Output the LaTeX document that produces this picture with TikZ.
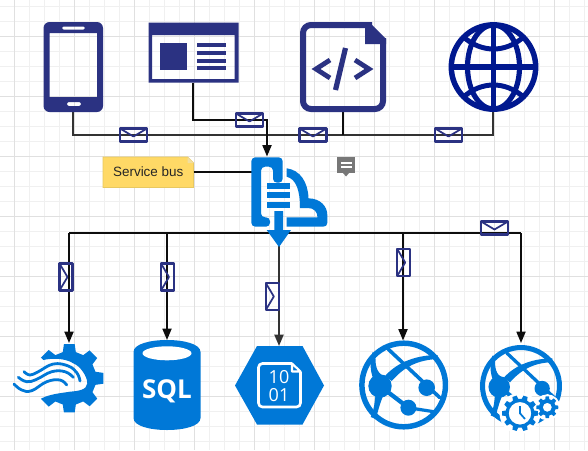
\documentclass[tikz,border=0pt]{standalone}
\usepackage{fontspec}
\setmainfont{Liberation Sans}
\newfontfamily\iconfont{Open Sans}
\usetikzlibrary{arrows.meta,calc}
\definecolor{navy}{HTML}{2B3282}
\definecolor{deepblue}{HTML}{00188F}
\definecolor{azure}{HTML}{0078D7}
\definecolor{gridminor}{HTML}{F0F0F0}
\definecolor{gridmajor}{HTML}{E0E0E0}
\definecolor{notefill}{HTML}{FFD966}
\definecolor{noteedge}{HTML}{E8C860}
\definecolor{commentgray}{HTML}{777777}
\tikzset{
  every picture/.style={x=0.75pt,y=-0.75pt},
  iconbox/.style n args={2}{minimum width=#1*0.75pt,minimum height=#2*0.75pt,inner sep=0pt,outer sep=0pt},
  wire/.style={draw=black!95,line width=1.3pt},
  trunk/.style={draw=black!80,line width=1.5pt},
  tip/.style={-{Triangle[length=8.5pt,width=6.75pt]}},
  envline/.style={draw=navy,line width=1.6pt,line join=round},
  envelope/.pic={
    \draw[envline] (-13.5,-6.5) rectangle (13.5,6.5);
    \draw[envline,line width=1.3pt] (-13.5,-6.5) -- (0,1.5) -- (13.5,-6.5);
  },
}
\newcommand{\gearshape}[5]{% n teeth, outer, root, half tip, half base
  (0:#2) \foreach \k in {0,...,\numexpr#1-1\relax}{
    -- ({\k*360/#1+#4}:#2) -- ({\k*360/#1+#5}:#3)
    -- ({(\k+1)*360/#1-#5}:#3) -- ({(\k+1)*360/#1-#4}:#2)
  } -- cycle}
\newcommand{\webglobe}[3]{%
  \begin{scope}[shift={(#1,#2)},scale=#3,azure,line cap=round]
    \draw[line width=#3*4.1pt] (0,0) circle (41.8);
    \fill (-23.7,1) circle (11.7);
    \fill (23,2.7) circle (8.3);
    \fill (4.7,22.7) circle (8);
    \fill (-18.7,-9) .. controls (-5.3,-24) and (14.7,-30) .. (34,-30) -- (34,-26) .. controls (14.7,-25) and (1.3,-19) .. (-12,-4) -- cycle;
    \draw[line width=#3*2.7pt] (-15.3,-35.7) -- (36,12.5);
    \draw[line width=#3*3.2pt] (-23.7,1) -- (4.7,22.7);
    \draw[line width=#3*2.4pt] (4.7,22.7) -- (32,27);
    \fill (-30,-5) .. controls (-34,-15) and (-34,-24) .. (-31,-33) -- (-28,-31) .. controls (-29,-20) and (-27,-12) .. (-20,-9) -- cycle;
    \fill (-28,8) .. controls (-29,18) and (-30,26) .. (-33,32) -- (-28,34) .. controls (-25,24) and (-23,15) .. (-19,8) -- cycle;
  \end{scope}}
\begin{document}
\begin{tikzpicture}
\useasboundingbox (0,0) rectangle (588,450);
\fill[white] (0,0) rectangle (588,450);
% grid
\foreach \gx in {-0.5,14.5,...,590}{\draw[gridminor,line width=0.75pt] (\gx,0) -- (\gx,450);}
\foreach \gy in {6.5,21.5,...,450}{\draw[gridminor,line width=0.75pt] (0,\gy) -- (588,\gy);}
\foreach \gx in {14.5,74.5,...,590}{\draw[gridmajor,line width=0.75pt] (\gx,0) -- (\gx,450);}
\foreach \gy in {36.5,96.5,...,450}{\draw[gridmajor,line width=0.75pt] (0,\gy) -- (588,\gy);}

% anchor nodes for icons
\node[iconbox={60}{90}] (phone) at (73,67) {};
\node[iconbox={90}{60}] (window) at (193,52.5) {};
\node[iconbox={86}{90}] (code) at (343,67) {};
\node[iconbox={90}{90}] (globe) at (493,67) {};
\node[iconbox={76}{70}] (bus) at (289.3,192) {};
\node[iconbox={70}{70}] (gearwave) at (69,378) {};
\node[iconbox={67}{90}] (sqldb) at (167,385) {};
\node[iconbox={89}{79}] (storage) at (279,385.5) {};
\node[iconbox={89}{89}] (webapp) at (403,385) {};
\node[iconbox={82}{86}] (webjob) at (521,386) {};
\coordinate (busIn) at (267,156.5);
\coordinate (busSide) at (252,172);
\coordinate (busOut) at (279,246);
\coordinate (topline) at (0,135);
\coordinate (winline) at (0,120);
\coordinate (botline) at (0,233);

% note
\fill[notefill,draw=noteedge,line width=0.7pt] (103,157) -- (187.5,157) -- (193.5,163) -- (193.5,187.5) -- (103,187.5) -- cycle;
\fill[noteedge!60!white] (187.5,157) -- (193.5,163) -- (187.5,163) -- cycle;
\node[iconbox={90.5}{31},text=black!85,font=\fontsize{10.1pt}{12pt}\selectfont] (note) at (148.25,172) {Service bus};

% connectors
\draw[trunk] (phone.south) -- (phone.south |- topline) -- (globe.south |- topline) -- (globe.south);
\draw[wire] (code.south) -- (code.south |- topline);
\draw[wire,tip] (window.south) -- (window.south |- winline) -- (busIn |- winline) -- (busIn);
\draw[wire] (note.east) -- (busSide);
\draw[wire] (gearwave.north |- botline) -- (webjob.north |- botline);
\draw[wire,tip] (gearwave.north |- botline) -- (gearwave.north);
\draw[wire,tip] (sqldb.north |- botline) -- (sqldb.north);
\draw[trunk,tip] (busOut) -- (busOut |- storage.north);
\draw[wire,tip] (webapp.north |- botline) -- (webapp.north);
\draw[wire,tip] (webjob.north |- botline) -- (webjob.north);

% envelopes
\pic at (133.5,135) {envelope};
\pic at (249.5,120) {envelope};
\pic at (313,135) {envelope};
\pic at (448.5,135) {envelope};
\pic at (494.5,228) {envelope};
\pic[rotate=90] at (66,277) {envelope};
\pic[rotate=90] at (167.5,277) {envelope};
\pic[rotate=90] at (272.3,296.5) {envelope};
\pic[rotate=90] at (403.7,262.5) {envelope};

% phone
\fill[navy,even odd rule,rounded corners=4.5pt] (43.5,22) rectangle (103,112)
  [sharp corners] (49.5,33) rectangle (97,97)
  [rounded corners=1pt] (62,26.5) rectangle (85,29.5)
  [rounded corners=1.5pt] (67,102) rectangle (81,106);

% window
\fill[navy,even odd rule] (148.5,22.5) rectangle (238.5,82.5) (152,35) rectangle (234.5,79);
\fill[navy] (160,43) rectangle (187,70);
\foreach \ly in {43,51,59,66}{\fill[navy] (197,\ly) rectangle (226,\ly+4);}

% code document
\draw[navy,line width=4.5pt,rounded corners=6pt] (372,25) -- (303,25) -- (303,109) -- (383,109) -- (383,38);
\fill[navy] (369,22) -- (386,39) -- (386,44) -- (365,44) -- (365,22) -- cycle;
\draw[navy,line width=3.6pt] (330,60) -- (316,69) -- (330,78);
\draw[navy,line width=3.6pt] (355,60) -- (369,69) -- (355,78);
\draw[navy,line width=3.9pt] (345.5,48) -- (335.5,90);

% globe
\begin{scope}[shift={(493.5,67)},deepblue]
  \draw[line width=4.1pt] (0,0) circle (42.2);
  \draw[line width=3.9pt] (0,0) ellipse (26 and 42);
  \draw[line width=3.9pt] (0,-43) -- (0,43);
  \draw[line width=3.9pt] (-43,0) -- (43,0);
  \draw[line width=3.7pt] (-30,-30) .. controls (-12,-14) and (12,-14) .. (30,-30);
  \draw[line width=3.7pt] (-30,30) .. controls (-12,14) and (12,14) .. (30,30);
\end{scope}

% service bus icon
\fill[azure,rounded corners=3pt] (270,226.7) -- (251.3,226.7) -- (251.3,157.3) -- (282.7,157.3) -- (282.7,182.7) -- (273,182.7) -- (273,166.7) -- (261,166.7) -- (261,217.3) -- (270,217.3) -- cycle;
\fill[azure] (267.3,182.7) rectangle (290,189);
\fill[azure] (267.3,191.7) rectangle (290,198);
\fill[azure] (267.3,201.7) rectangle (290,208);
\fill[azure] (274.3,211) -- (283,211) -- (283,230) -- (291,230) -- (279,247) -- (266.7,230) -- (274.3,230) -- cycle;
\fill[azure] (286.7,168.3) .. controls (300,170) and (308,182) .. (308.5,198.3)
  .. controls (320,198.5) and (327.3,206) .. (327.3,215) -- (327.3,223) .. controls (327.3,225.5) and (325.5,226.7) .. (323,226.7)
  -- (286.7,226.7) -- (286.7,217.3) -- (317.5,217.3) .. controls (317.5,212) and (314,208) .. (308,208)
  -- (300,208) .. controls (300,190) and (296,179) .. (286.7,176.7) -- cycle;

% comment badge
\fill[commentgray] (337,157) rectangle (355,173);
\fill[commentgray] (343,173) -- (349,173) -- (346,176.5) -- cycle;
\fill[white] (340.7,161.7) rectangle (351.7,164);
\fill[white] (340.7,165.7) rectangle (351.7,168);

% gear with waves
\begin{scope}[shift={(69.3,378.3)},azure]
  \fill (-26,-18.3) -- (-144:35) -- (-126:35) -- (-121:27)
    \foreach \a in {-90,-45,0,45,90}{
      -- ({\a-14}:27) -- ({\a-9}:34.5) -- ({\a+9}:34.5) -- ({\a+14}:27)
    } -- (121:27) -- (126:35) -- (144:35) -- (-27.6,20)
    .. controls (-19.3,15.7) and (-7.3,14.7) .. (0.7,13.4)
    .. controls (8.7,12.7) and (17.7,11.7) .. (18,5)
    .. controls (18,-2.3) and (10.7,-12.3) .. (4,-15)
    .. controls (-4.3,-20.3) and (-17.3,-20.3) .. (-26,-18.3) -- cycle;
\end{scope}
\draw[azure,line width=2.1pt,line cap=round] plot[smooth,tension=0.7] coordinates {(24,371.7) (30,375) (38.3,371.7) (53.3,364) (68.3,366) (77,373) (80,381)};
\draw[azure,line width=2.1pt,line cap=round] plot[smooth,tension=0.7] coordinates {(18.3,377.3) (26.7,381.7) (36.7,379.3) (51.7,371.7) (65,371.7) (73.3,377.3)};
\draw[azure,line width=2.1pt,line cap=round] plot[smooth,tension=0.7] coordinates {(14,384) (21.7,390) (31.7,390.7) (46.7,381.7) (60,380) (66.7,385)};

% SQL cylinder
\fill[azure] (133.5,352) .. controls (133.5,344) and (150,340) .. (167,340) .. controls (184,340) and (200.5,344) .. (200.5,352)
  -- (200.5,418) .. controls (200.5,426) and (184,430) .. (167,430) .. controls (150,430) and (133.5,426) .. (133.5,418) -- cycle;
\fill[white] (167,353.3) ellipse (24.5 and 7);
\node[iconbox={50}{20},text=white,font=\iconfont\bfseries\fontsize{19.5pt}{20pt}\selectfont] (sqltext) at (167,391) {SQL};

% storage hexagon
\fill[azure] (235,385.5) -- (257,346) -- (302.5,346) -- (324,385.5) -- (302.5,424.5) -- (257,424.5) -- cycle;
\draw[white,line width=2pt,rounded corners=3pt] (292,363.5) -- (258.5,363.5) -- (258.5,407) -- (300.5,407) -- (300.5,371.5);
\draw[white,line width=1.6pt,line join=round] (292,363.5) -- (300.5,371.5) -- (292,371.5) -- cycle;
\node[iconbox={22}{14},text=white,font=\iconfont\fontsize{13.5pt}{14pt}\selectfont] (bitsA) at (279,377) {10};
\node[iconbox={22}{14},text=white,font=\iconfont\fontsize{13.5pt}{14pt}\selectfont] (bitsB) at (279,395) {01};

% web apps
\webglobe{403.7}{385}{1}
\webglobe{521}{386}{0.92}
\fill[white] (520,413.3) circle (20.5);
\fill[white] (547.3,407.3) circle (13);
\fill[azure,shift={(520,413.3)},even odd rule] \gearshape{10}{18}{14.5}{7}{11} (0,0) circle (11.3);
\draw[azure,line width=1.3pt] (520,406) -- (520,413.3) -- (525,419);
\fill[azure,shift={(547.3,407.3)},even odd rule] \gearshape{8}{11}{8.3}{9}{14} (0,0) circle (4.5);
\end{tikzpicture}
\end{document}
